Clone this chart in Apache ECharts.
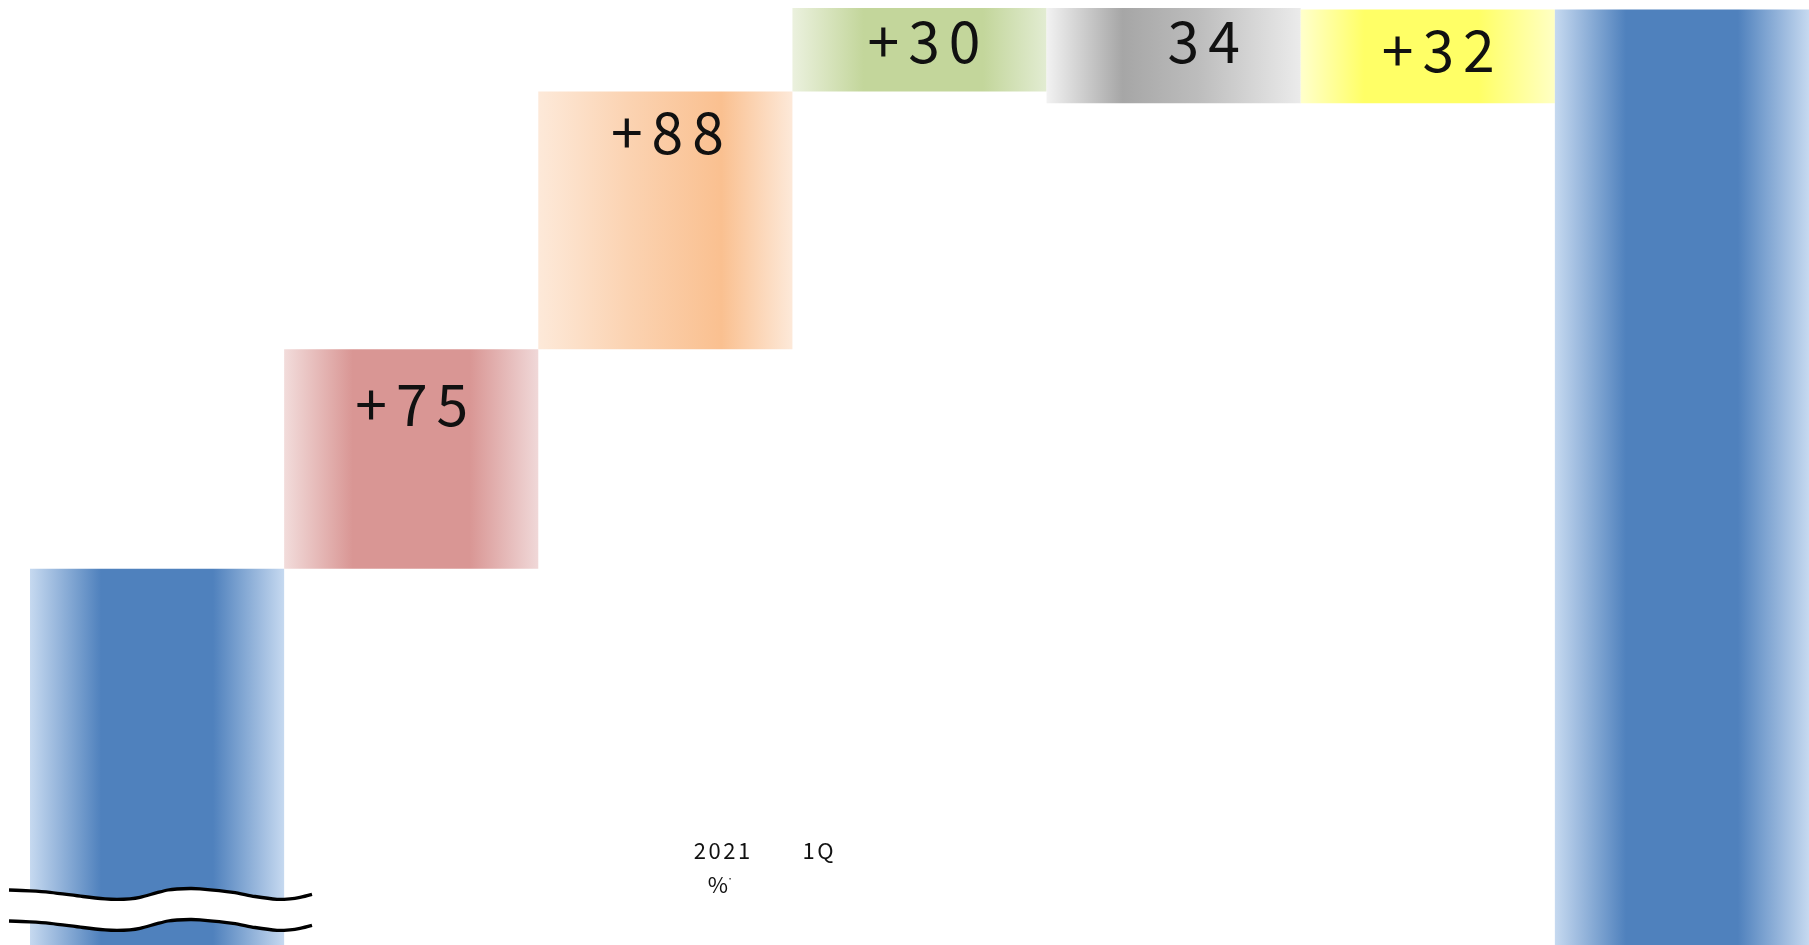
<!DOCTYPE html>
<html>
<head>
<meta charset="utf-8">
<script src="https://cdn.jsdelivr.net/npm/echarts@6/dist/echarts.min.js"></script>
<style>
html,body{margin:0;padding:0;background:#fff;}
#chart{width:1809px;height:945px;}
</style>
</head>
<body>
<div id="chart"></div>
<script>
// ---- data ----
const categories = ['start', 'step1', 'step2', 'step3', 'step4', 'step5', 'end'];
const startValue = 128.5;
const deltas = [75, 88, 30, -34, 32];
const valueLabels = ['', '+75', '+88', '+30', '34', '+32', ''];
const axisMin = 0;
const axisMax = 320;
const noteYear = '2021';
const noteQuarter = '1Q';
const noteUnit = '%';

// ---- styles ----
function grad(stops) {
  return { type: 'linear', x: 0, y: 0, x2: 1, y2: 0,
    colorStops: stops.map(s => ({ offset: s[0], color: s[1] })) };
}
const fills = [
  grad([[0, '#c6d9f0'], [0.28, '#4f81bd'], [0.72, '#4f81bd'], [1, '#c6d9f0']]),
  grad([[0, '#f2dcdb'], [0.27, '#d99694'], [0.73, '#d99694'], [1, '#f0d8d8']]),
  grad([[0, '#fde9d9'], [0.35, '#fbd3b2'], [0.72, '#fac090'], [1, '#fde9d9']]),
  grad([[0, '#ebf1de'], [0.28, '#c3d69b'], [0.75, '#c3d69b'], [1, '#e2ecd2']]),
  grad([[0, '#f2f2f2'], [0.3, '#a6a6a6'], [0.6, '#bdbdbd'], [1, '#ebebeb']]),
  grad([[0, '#ffffcc'], [0.25, '#ffff66'], [0.7, '#ffff66'], [1, '#ffffc4']]),
  grad([[0, '#c6d9f0'], [0.28, '#4f81bd'], [0.72, '#4f81bd'], [1, '#c6d9f0']])
];
const labelPos = [null, [0.5, 55], [2, 41], [4.5, 33.5], [30, 33.5], [10.5, 40.5], null];
const txtFont = '"Noto Sans CJK JP", "Noto Sans", sans-serif';

function spaced(str) {
  return str.split('').map(ch => '{d|' + ch + '}').join('');
}

// ---- build waterfall ----
const bases = [];
const heights = [];
let cum = startValue;
bases.push(0); heights.push(startValue);
deltas.forEach(d => {
  if (d >= 0) { bases.push(cum); heights.push(d); cum += d; }
  else { cum += d; bases.push(cum); heights.push(-d); }
});
bases.push(0); heights.push(cum);

const chart = echarts.init(document.getElementById('chart'));

const visData = heights.map((h, i) => {
  const item = { value: h, itemStyle: { color: fills[i] } };
  if (valueLabels[i]) {
    item.label = {
      show: true,
      formatter: spaced(valueLabels[i]),
      position: ['50%', labelPos[i][1]],
      offset: [labelPos[i][0], 0],
      align: 'center',
      verticalAlign: 'middle',
      rich: {
        d: { fontSize: 57, fontFamily: txtFont, color: '#111111', padding: [0, 4.5] }
      }
    };
  }
  return item;
});

// wave decoration (axis break)
const waveUpper = [[9, 890], [30, 890.8], [50, 892.3], [83, 896.5], [105, 898.8], [117, 899.3],
  [130, 898.8], [140, 897.3], [157, 892.7], [168, 890], [177, 889], [190, 888.5], [200, 888.8],
  [233, 892.3], [255, 896.5], [277, 899.3], [290, 898.8], [300, 897.3], [312, 894.3]];
const waveLower = waveUpper.map(p => [p[0], p[1] + 31]);
const waveMid = waveUpper.map(p => [p[0], p[1] + 15.5]);

function noteText(x, y, text, size, pad) {
  return { type: 'text', x: x, y: y, z: 12,
    style: { text: text.split('').map(ch => '{n|' + ch + '}').join(''),
      align: 'center', verticalAlign: 'middle',
      rich: { n: { fontSize: size, fontFamily: txtFont, fill: '#111', padding: [0, pad] } } } };
}

chart.setOption({
  animation: false,
  backgroundColor: '#ffffff',
  grid: { left: 30, right: 0, top: 8, bottom: 0, containLabel: false },
  xAxis: { type: 'category', data: categories, show: false },
  yAxis: { type: 'value', min: axisMin, max: axisMax, show: false, splitLine: { show: false } },
  series: [
    { type: 'bar', stack: 'w', data: bases, itemStyle: { color: 'transparent' },
      barCategoryGap: 0, silent: true, clip: true },
    { type: 'bar', stack: 'w', data: visData, barCategoryGap: 0, clip: true }
  ],
  graphic: [
    { type: 'polyline', shape: { points: waveMid, smooth: 0.3 },
      style: { stroke: '#ffffff', lineWidth: 29, fill: null }, z: 10 },
    { type: 'polyline', shape: { points: waveUpper, smooth: 0.3 },
      style: { stroke: '#000000', lineWidth: 3.3, fill: null }, z: 11 },
    { type: 'polyline', shape: { points: waveLower, smooth: 0.3 },
      style: { stroke: '#000000', lineWidth: 3.3, fill: null }, z: 11 },
    noteText(722, 851, noteYear, 22, 1.3),
    noteText(818, 851, noteQuarter, 22, 1.3),
    noteText(718, 885, noteUnit, 22, 1),
    { type: 'text', x: 730, y: 878, z: 12,
      style: { text: '·', fontSize: 12, fontFamily: txtFont, fill: '#111', align: 'center', verticalAlign: 'middle' } }
  ]
});
</script>
</body>
</html>
